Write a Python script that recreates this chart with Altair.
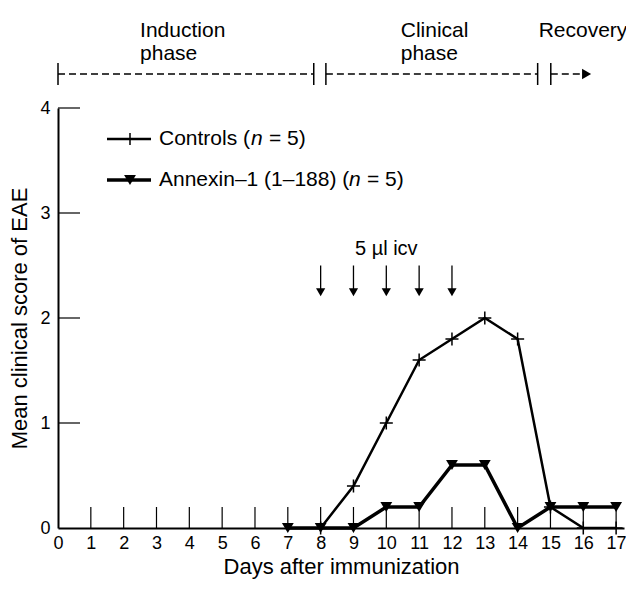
import altair as alt
import pandas as pd

# ---------------- data ----------------
x_ticks = list(range(0, 18))
y_ticks = [0, 1, 2, 3, 4]
inner_x_ticks = list(range(1, 18))
inner_y_ticks = [1, 2, 3, 4]

ctrl_days = [8, 9, 10, 11, 12, 13, 14, 15, 16, 17]
ctrl_score = [0, 0.4, 1.0, 1.6, 1.8, 2.0, 1.8, 0.2, 0, 0]

anx_days = [7, 8, 9, 10, 11, 12, 13, 14, 15, 16, 17]
anx_score = [0, 0, 0, 0.2, 0.2, 0.6, 0.6, 0, 0.2, 0.2, 0.2]

icv_days = [8, 9, 10, 11, 12]
icv_label = "5 µl icv"

phase_line1 = ["Induction", "Clinical", "Recovery"]
phase_line2 = ["phase", "phase", ""]
phase_label_day = [2.5, 10.44, 14.64]
phase_start = [0, 8.16, 15.01]
phase_end = [7.79, 14.61, 15.95]
phase_bars = [0, 7.79, 8.16, 14.61, 15.01]
phase_arrow_day = [16.1]

legend_text = ["Controls (", "Annexin–1 (1–188) ("]
legend_n = "n"
legend_tail = "= 5)"

# ---------------- layout ----------------
W, H = 566, 420
FONT = "Liberation Sans"
XS = alt.Scale(domain=[0, 17.24], nice=False, zero=False)
YS = alt.Scale(domain=[0, 4], nice=False, zero=False)

ctrl = pd.DataFrame({"day": ctrl_days, "score": ctrl_score})
anx = pd.DataFrame({"day": anx_days, "score": anx_score})

x_axis = alt.Axis(values=x_ticks, ticks=False, labelFontSize=18, labelPadding=6,
                  title="Days after immunization", titleFontSize=22,
                  titleFontWeight="normal", titlePadding=4, domainColor="black",
                  domainWidth=2, labelColor="black", titleColor="black", grid=False,
                  labelFont=FONT, titleFont=FONT, labelFlush=False, labelOverlap=False)
y_axis = alt.Axis(values=y_ticks, ticks=False, labelFontSize=18, labelPadding=8,
                  title="Mean clinical score of EAE", titleFontSize=22,
                  titleFontWeight="normal", titlePadding=8, domainColor="black",
                  domainWidth=2, labelColor="black", titleColor="black", grid=False,
                  labelFont=FONT, titleFont=FONT, labelFlush=False, labelOverlap=False)


def X(field="day"):
    return alt.X(f"{field}:Q", scale=XS, axis=x_axis)


def Y(field="score"):
    return alt.Y(f"{field}:Q", scale=YS, axis=y_axis)


ctrl_line = alt.Chart(ctrl).mark_line(color="black", strokeWidth=2.5).encode(x=X(), y=Y())
ctrl_pts = alt.Chart(ctrl).mark_point(shape="M-1,0H1M0,-1V1", size=170, filled=False,
                                      strokeWidth=1.5, color="black", opacity=1).encode(
    x=X(), y=Y())
anx_line = alt.Chart(anx).mark_line(color="black", strokeWidth=3.5).encode(x=X(), y=Y())
anx_pts = alt.Chart(anx).mark_point(shape="triangle-down", filled=True, size=140,
                                    color="black", opacity=1).encode(x=X(), y=Y())

xt = alt.Chart(pd.DataFrame({"day": inner_x_ticks})).mark_rule(
    color="black", strokeWidth=1.2).encode(x=X(), y=alt.value(H), y2=alt.value(H - 21))
yt = alt.Chart(pd.DataFrame({"score": inner_y_ticks})).mark_rule(
    color="black", strokeWidth=1.2).encode(y=Y(), x=alt.value(0), x2=alt.value(22))

icv = pd.DataFrame({"day": icv_days, "score": [2.5] * 5, "score2": [2.27] * 5,
                    "tip": [2.245] * 5})
icv_shaft = alt.Chart(icv).mark_rule(color="black", strokeWidth=1.3).encode(
    x=X(), y=Y(), y2="score2:Q")
icv_head = alt.Chart(icv).mark_point(shape="triangle-down", filled=True, size=85,
                                     color="black", opacity=1).encode(x=X(), y=Y("tip"))
icv_text = alt.Chart(pd.DataFrame({"day": [10], "score": [2.66], "t": [icv_label]})).mark_text(
    fontSize=20, font=FONT, color="black", align="center", baseline="middle").encode(
    x=X(), y=Y(), text="t:N")

phases = pd.DataFrame({"day": phase_start, "day2": phase_end, "l1": phase_line1,
                       "l2": phase_line2, "lx": phase_label_day})
phase_rules = alt.Chart(phases).mark_rule(color="black", strokeWidth=1.5,
                                          strokeDash=[7, 4]).encode(
    x=X(), x2="day2:Q", y=alt.value(-34))
phase_bar = alt.Chart(pd.DataFrame({"day": phase_bars})).mark_rule(
    color="black", strokeWidth=1.5).encode(x=X(), y=alt.value(-45), y2=alt.value(-23))
phase_head = alt.Chart(pd.DataFrame({"day": phase_arrow_day})).mark_point(
    shape="triangle-right", filled=True, size=110, color="black", opacity=1).encode(
    x=X(), y=alt.value(-34))
phase_t1 = alt.Chart(phases).mark_text(fontSize=21, font=FONT, color="black", align="left",
                                       baseline="alphabetic").encode(
    x=X("lx"), y=alt.value(-71), text="l1:N")
phase_t2 = alt.Chart(phases).mark_text(fontSize=21, font=FONT, color="black", align="left",
                                       baseline="alphabetic").encode(
    x=X("lx"), y=alt.value(-48), text="l2:N")


# ---------------- legend (drawn by hand for the italic n) ----------------
LFS = 21


def legend_row(ypix, label, n_x, shape_kind):
    d = pd.DataFrame({"a": [label]})
    sw = 2.5 if shape_kind == "plus" else 3.5
    line = alt.Chart(d).mark_rule(color="black", strokeWidth=sw).encode(
        x=alt.value(49), x2=alt.value(93), y=alt.value(ypix))
    if shape_kind == "plus":
        sym = alt.Chart(d).mark_point(shape="M-1,0H1M0,-1V1", size=150, filled=False,
                                      strokeWidth=1.5, color="black", opacity=1).encode(
            x=alt.value(72), y=alt.value(ypix))
    else:
        sym = alt.Chart(d).mark_point(shape="triangle-down", filled=True, size=140,
                                      color="black", opacity=1).encode(
            x=alt.value(72), y=alt.value(ypix))
    t1 = alt.Chart(d).mark_text(fontSize=LFS, font=FONT, color="black", align="left",
                                baseline="middle").encode(
        x=alt.value(101), y=alt.value(ypix), text="a:N")
    t2 = alt.Chart(pd.DataFrame({"a": [legend_n]})).mark_text(
        fontSize=LFS, font=FONT, fontStyle="italic", color="black", align="left",
        baseline="middle").encode(x=alt.value(n_x), y=alt.value(ypix), text="a:N")
    t3 = alt.Chart(pd.DataFrame({"a": [legend_tail]})).mark_text(
        fontSize=LFS, font=FONT, color="black", align="left", baseline="middle").encode(
        x=alt.value(n_x + 18), y=alt.value(ypix), text="a:N")
    return [line, sym, t1, t2, t3]


leg = legend_row(31, legend_text[0], 193, "plus") + legend_row(72, legend_text[1], 291, "tri")

chart = alt.layer(
    ctrl_line, xt, yt, ctrl_pts, anx_line, anx_pts, icv_shaft, icv_head, icv_text,
    phase_rules, phase_bar, phase_head, phase_t1, phase_t2, *leg
).properties(
    width=W, height=H,
    background="white",
    autosize=alt.AutoSizeParams(type="none"),
    padding={"left": 50, "top": 100, "right": 2, "bottom": 53},
).configure_view(stroke=None)

chart.save("out.html", embed_options={"renderer": "svg", "actions": False})
